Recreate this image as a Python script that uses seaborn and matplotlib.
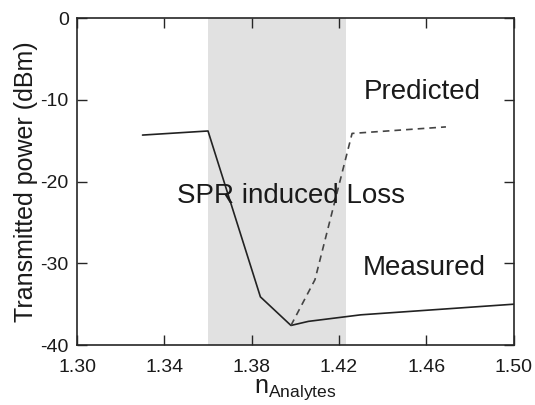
import matplotlib
matplotlib.use("Agg")
import matplotlib.pyplot as plt
import seaborn as sns
import pandas as pd

# ------------------ DATA ------------------
measured_n = [1.330, 1.360, 1.384, 1.398, 1.406, 1.430, 1.500]
measured_db = [-14.3, -13.8, -34.1, -37.6, -37.1, -36.3, -35.0]

predicted_n = [1.398, 1.409, 1.426, 1.469]
predicted_db = [-37.6, -32.0, -14.1, -13.3]

spr_band = [1.360, 1.423]

x_ticks = [1.30, 1.34, 1.38, 1.42, 1.46, 1.50]
y_ticks = [0, -10, -20, -30, -40]

labels = {"Predicted": (1.458, -9.0), "SPR induced Loss": (1.398, -21.8), "Measured": (1.459, -30.6)}

df_m = pd.DataFrame({"n": measured_n, "p": measured_db})
df_p = pd.DataFrame({"n": predicted_n, "p": predicted_db})

# ------------------ STYLE ------------------
sns.set_style("ticks")
plt.rcParams["font.family"] = ["Liberation Sans", "DejaVu Sans"]
plt.rcParams["mathtext.fontset"] = "custom"
plt.rcParams["mathtext.rm"] = "Liberation Sans"
plt.rcParams["axes.unicode_minus"] = False

fig, ax = plt.subplots(figsize=(5.35, 4.05), dpi=100)
fig.subplots_adjust(left=0.144, right=0.96, bottom=0.148, top=0.955)

ax.axvspan(spr_band[0], spr_band[1], color="#e1e1e1", lw=0, zorder=0)

sns.lineplot(data=df_m, x="n", y="p", color="#222222", lw=1.2, sort=False, ax=ax)
sns.lineplot(data=df_p, x="n", y="p", color="#444444", lw=1.2, sort=False,
             linestyle=(0, (4, 3)), ax=ax)

for txt, (x, y) in labels.items():
    ax.text(x, y, txt, fontsize=20, ha="center", va="center", color="#1a1a1a")

ax.set_xlim(1.30, 1.50)
ax.set_ylim(-40, 0)
ax.set_xticks(x_ticks)
ax.set_xticklabels([f"{t:.2f}" for t in x_ticks])
ax.set_yticks(y_ticks)
ax.tick_params(direction="in", length=7, width=1, labelsize=14, top=True, right=True,
               labelcolor="#1a1a1a")
ax.tick_params(axis="x", pad=10)
ax.tick_params(axis="y", pad=6)
for s in ax.spines.values():
    s.set_linewidth(1.2)

ax.set_xlabel(r"n$_{\mathrm{Analytes}}$", fontsize=18, labelpad=1, color="#1a1a1a")
ax.set_ylabel("Transmitted power (dBm)", fontsize=18, labelpad=2, color="#1a1a1a")

plt.savefig("out.png", dpi=100)
